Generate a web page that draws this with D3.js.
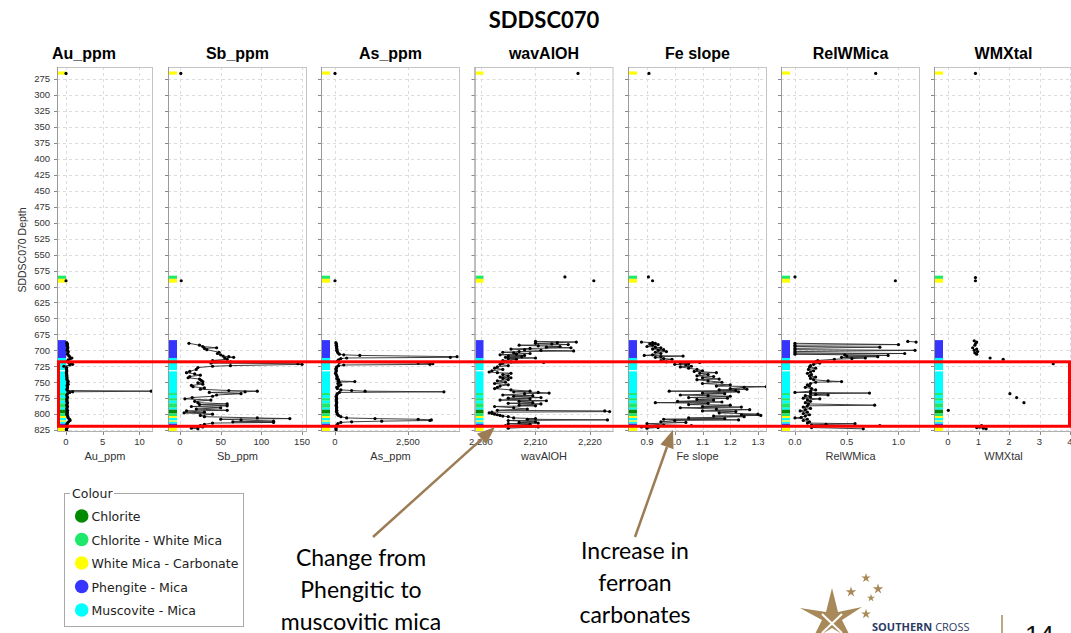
<!DOCTYPE html>
<html><head><meta charset="utf-8">
<script src="https://cdn.jsdelivr.net/npm/d3@7"></script>
<style>body{margin:0;background:#fff;overflow:hidden} svg{display:block}</style>
</head><body>
<svg id="c" width="1071" height="633"></svg>
<script>
// ---------------- DATA ----------------
const chartTitle = "SDDSC070";
const depthLabel = "SDDSC070 Depth";
const depthTicks = [275,300,325,350,375,400,425,450,475,500,525,550,575,600,625,650,675,700,725,750,775,800,825];
const panelNames = ["Au_ppm","Sb_ppm","As_ppm","wavAlOH","Fe slope","RelWMica","WMXtal"];

const auTicks = [0,5,10];
const sbTicks = [0,50,100,150];
const asTicks = [0,2500];
const alohTicks = [2200,2210,2220];
const feTicks = [0.9,1.0,1.1,1.2,1.3];
const relTicks = [0.0,0.5,1.0];
const wmxTicks = [0,1,2,3,4];

const classNames = ["Chlorite","Chlorite - White Mica","White Mica - Carbonate","Phengite - Mica","Muscovite - Mica"];
const classColors = ["#008a00","#1ee86a","#ffff00","#3535ff","#00ffff"];

// colour strip intervals [top depth, bottom depth, class]
const stripData = [
 [263,268,"White Mica - Carbonate"],
 [583,588,"Chlorite - White Mica"],
 [588,594,"White Mica - Carbonate"],
 [684,712,"Phengite - Mica"],
 [712,731,"Muscovite - Mica"],
 [733,767,"Muscovite - Mica"],
 [767,770,"Chlorite - White Mica"],
 [770,775,"Muscovite - Mica"],
 [775,779,"Chlorite - White Mica"],
 [779,783,"Muscovite - Mica"],
 [783,790,"Chlorite - White Mica"],
 [790,793,"Muscovite - Mica"],
 [793,799,"Chlorite"],
 [799,803,"Chlorite - White Mica"],
 [803,806,"White Mica - Carbonate"],
 [806,810,"Muscovite - Mica"],
 [810,812,"White Mica - Carbonate"],
 [812,815,"Muscovite - Mica"],
 [815,818,"Phengite - Mica"],
 [818,828,"White Mica - Carbonate"]
];

// [depth, value]
const auData = [[266,0],[591,0],
 [688,0.1],[690,0.2],[692,0.15],[694,0.2],[696,0.25],[698,0.2],[700,0.15],[702,0.3],[704,0.25],[706,0.2],[708,0.35],[710,0.5],[712,0.8],[713,0.6],[715,0.3],[717,0.2],[719,0.35],[721,0.75],[722,0.9],[723,0.5],[725,-0.3],[727,0.1],[729,0.05],[731,0.1],[733,0.1],[735,0.05],[737,0.1],[739,0.1],[741,0.1],[743,0.15],[745,0.1],[747,0.2],[749,0.3],[751,0.2],[753,0.3],[755,0.15],[757,0.2],[759,0.2],[761,0.1],[763,0.2],[764,11.6],[765,0.9],[766,0.5],[768,0.2],[770,0.1],[772,0.15],[774,0.2],[776,0.1],[778,0.15],[780,0.1],[782,0.2],[784,0.15],[786,0.1],[788,0.2],[790,0.15],[792,0.1],[794,0.2],[796,0.15],[798,0.2],[800,0.1],[802,0.2],[804,0.25],[806,0.3],[808,0.5],[810,0.55],[812,0.35],[814,0.2],[816,0.1],[818,0.15],[820,0.2],[822,0.1],[824,0.05],[826,0.1]];

const sbData = [[266,1],[591,1.5],
 [689,11],[692,24],[694,28],[696,45],[697,30],[699,33],[703,48],[705,46],[707,50],[709,53],[710,60],[711,66],[712,55],[714,58],[716,40],[718,62],[720,38],[721,145],[722,150],[724,62],[725,40],[727,22],[730,20],[733,12],[735,8],[737,18],[739,25],[741,12],[743,10],[745,24],[747,26],[749,28],[751,22],[753,28],[755,14],[757,16],[759,30],[761,25],[763,60],[764,95],[765,80],[766,36],[768,75],[770,45],[772,40],[774,15],[776,6],[778,38],[780,18],[782,22],[784,58],[785,24],[787,58],[788,14],[790,50],[792,20],[794,58],[795,8],[797,30],[798,5],[800,40],[802,25],[804,30],[806,95],[807,135],[808,50],[809,75],[811,115],[812,65],[813,115],[814,40],[816,30],[818,25],[820,28],[822,14],[823,22]];

const asData = [[266,0],[591,0],
 [688,30],[690,50],[692,40],[694,60],[696,50],[698,70],[700,60],[702,80],[704,100],[706,150],[707,300],[708,850],[710,4180],[711,3950],[712,400],[713,200],[715,120],[717,80],[719,150],[720,2850],[721,3350],[722,3250],[723,300],[724,120],[726,60],[728,40],[730,30],[732,50],[734,30],[736,20],[738,40],[740,60],[742,80],[744,60],[746,120],[748,100],[749,680],[750,150],[752,100],[754,200],[756,120],[758,60],[760,80],[762,200],[763,570],[764,1030],[765,3730],[766,150],[768,80],[770,60],[772,40],[774,50],[776,60],[778,40],[780,50],[782,60],[784,50],[786,40],[788,50],[790,60],[792,50],[794,60],[796,50],[798,70],[800,80],[802,120],[804,200],[806,400],[807,1370],[808,2850],[809,3300],[810,3250],[811,1600],[812,570],[813,200],[815,100],[817,60],[819,50],[821,40],[823,30],[825,40]];

const alohData = [[266,2217.8],[585,2215.4],[591,2220.7],
 [686,2210],[687,2217.5],[688,2214],[689,2210],[690,2213],[691,2216],[692,2207],[693,2210.5],[694,2214.5],[695,2212],[696,2216.5],[697,2209],[698,2205.5],[699,2208],[700,2211],[701,2217],[702,2207],[703,2204],[704,2206],[705,2209],[706,2206.5],[707,2203.5],[708,2208],[709,2205],[710,2207.5],[711,2204.5],[712,2210],[713,2205],[714,2206.5],[716,2204],[718,2205.5],[719,2211.5],[720,2204],[722,2203.5],[724,2205],[726,2203],[728,2202.5],[730,2204],[732,2202],[734,2201.5],[735,2203],[736,2205.5],[738,2204],[740,2205],[742,2203.5],[743,2205.5],[744,2204],[746,2205],[748,2203],[750,2204.5],[752,2202.5],[754,2205],[756,2203.5],[758,2203],[760,2202.5],[762,2205.5],[764,2209],[765,2206],[766,2210.5],[767,2212.5],[768,2208],[770,2204],[771,2209.5],[772,2206],[774,2211],[775,2205],[776,2209],[778,2203.5],[779,2212],[780,2207],[782,2209.5],[783,2205],[784,2211],[786,2207],[787,2210],[788,2202.5],[790,2206],[792,2208.5],[794,2203],[795,2222.7],[796,2223.6],[797,2202],[798,2201.5],[799,2202],[800,2202.5],[801,2203],[802,2203.5],[803,2204],[804,2205],[806,2206],[807,2210],[808,2208.5],[809,2223.2],[810,2205],[812,2210],[813,2207],[814,2210.5],[815,2205],[816,2209],[818,2204.5],[820,2210.5],[822,2205]];

const feData = [[266,0.907],[585,0.905],[591,0.92],
 [687,0.88],[688,0.92],[689,0.93],[690,0.91],[691,0.94],[692,0.92],[694,0.90],[695,0.93],[696,0.95],[698,0.92],[699,0.96],[700,0.94],[702,0.97],[703,0.93],[705,0.95],[707,0.92],[708,0.89],[709,1.03],[710,0.95],[711,0.93],[713,0.96],[714,0.99],[716,0.95],[718,0.97],[719,1.09],[720,1.02],[721,1.05],[722,1.0],[723,1.04],[725,1.06],[726,1.02],[728,1.05],[730,1.08],[732,1.1],[733,1.07],[735,1.15],[736,1.09],[738,1.12],[740,1.08],[741,1.14],[743,1.1],[745,1.16],[746,1.08],[748,1.12],[750,1.17],[752,1.1],[754,1.2],[756,1.15],[757,1.33],[758,1.25],[760,1.2],[761,1.26],[762,1.16],[763,1.22],[764,0.98],[765,1.23],[767,1.1],[768,1.18],[770,1.02],[771,1.12],[772,1.2],[774,1.05],[775,1.19],[777,1.08],[778,1.14],[780,1.01],[781,1.17],[782,0.93],[783,1.12],[785,1.05],[786,1.2],[788,1.1],[789,1.24],[790,1.02],[792,1.15],[793,1.27],[795,1.1],[796,1.22],[798,1.16],[800,1.3],[801,1.24],[802,1.31],[803,1.14],[804,1.25],[806,1.05],[807,1.18],[808,0.96],[809,1.23],[810,1.0],[812,0.95],[813,1.04],[815,0.9],[817,0.96],[818,1.06],[820,0.88],[821,0.94],[822,0.9]];

const relData = [[266,0.78],[585,0.0],[591,0.97],
 [686,1.09],[687,1.17],[688,null],[689,0.0],[691,1.0],[692,0.0],[694,0.0],[695,0.82],[697,0.0],[699,0.0],[700,1.16],[702,0.0],[704,0.0],[705,1.06],[706,0.0],[707,0.48],[708,0.9],[709,0.5],[710,0.8],[711,0.45],[712,0.68],[713,0.55],[714,0.38],[716,0.22],[718,0.2],[720,0.24],[722,0.18],[724,0.15],[726,0.14],[728,0.2],[730,0.13],[732,0.18],[734,0.15],[736,0.12],[738,0.16],[740,0.14],[742,0.2],[744,0.15],[746,0.18],[748,0.32],[749,0.45],[750,0.2],[752,0.15],[754,0.12],[756,0.14],[758,0.1],[760,0.16],[762,0.2],[764,0.15],[766,0.0],[767,0.72],[768,0.15],[769,0.2],[770,0.32],[771,0.1],[773,0.15],[775,0.08],[776,0.24],[778,0.12],[780,0.15],[782,0.1],[784,0.13],[786,0.77],[787,0.12],[789,0.08],[791,0.15],[793,0.1],[795,0.05],[797,0.12],[799,0.08],[801,0.14],[803,0.1],[805,0.06],[806,0.0],[808,0.12],[810,0.08],[812,0.14],[814,0.12],[815,0.58],[816,0.3],[817,0.16],[818,0.82],[819,0.2],[821,0.16],[823,0.66]];

const wmxData = [[266,0.9],[586,0.9],[591,0.9],
 [685,0.86],[686,null],[687,0.94],[688,null],[689,0.91],[690,null],[692,0.88],[693,null],[696,0.81],[697,null],[698,0.94],[699,null],[700,0.86],[701,null],[702,0.97],[703,null],[704,0.88],[705,null],[706,0.94],[707,null],[712,1.38],[713,null],[714,1.81],[715,null],[721,3.45],[768,2.03],[769,null],[774,2.25],[775,null],[782,2.49],[794,0.01],[818,1.1],[820,1.03],[821,0.94],[822,1.16],[823,1.25]];

const highlightDepths = [718, 819];
const legendTitle = "Colour";
const note1 = ["Change from","Phengitic to","muscovitic mica"];
const note2 = ["Increase in","ferroan","carbonates"];

// ---------------- LAYOUT ----------------
const svg = d3.select("#c");
const yTop = 67, yBot = 432;
const y = d3.scaleLinear().domain([256,828]).range([yTop,yBot]);

const panels = [
 {name:panelNames[0], data:auData, ticks:auTicks, fmt:d3.format("d"), left:57, width:96, domain:[-1.224,11.837]},
 {name:panelNames[1], data:sbData, ticks:sbTicks, fmt:d3.format("d"), left:168, width:139, domain:[-14.75,156.1]},
 {name:panelNames[2], data:asData, ticks:asTicks, fmt:d3.format(","), left:321, width:139, domain:[-479,4281]},
 {name:panelNames[3], data:alohData, ticks:alohTicks, fmt:d3.format(","), left:474.5, width:139, domain:[2198.81,2224.31]},
 {name:panelNames[4], data:feData, ticks:feTicks, fmt:d3.format(".1f"), left:628, width:139, domain:[0.8315,1.3324]},
 {name:panelNames[5], data:relData, ticks:relTicks, fmt:d3.format(".1f"), left:781, width:139, domain:[-0.135,1.208]},
 {name:panelNames[6], data:wmxData, ticks:wmxTicks, fmt:d3.format("d"), left:934, width:139, domain:[-0.459,4.098]}
];
const colorOf = d3.scaleOrdinal().domain(classNames).range(classColors);

const FONT = "'Liberation Sans', Arial, sans-serif";

function runs(data){
  const out=[]; let cur=[];
  data.forEach(d=>{
    if(d[1]==null){ if(cur.length) out.push(cur); cur=[]; return; }
    if(cur.length && d[0]-cur[cur.length-1][0] > 4){ out.push(cur); cur=[]; }
    cur.push(d);
  });
  if(cur.length) out.push(cur);
  return out;
}

const defs = svg.append("defs");

panels.forEach((p,i)=>{
  const L = p.left, R = p.left + p.width;
  const x = d3.scaleLinear().domain(p.domain).range([L,R]);
  const g = svg.append("g");
  defs.append("clipPath").attr("id","clip"+i).append("rect")
     .attr("x",L).attr("y",yTop).attr("width",p.width).attr("height",yBot-yTop);

  g.append("rect").attr("x",L).attr("y",yTop).attr("width",p.width).attr("height",yBot-yTop).attr("fill","#fff");

  // grid
  g.append("g").selectAll("line").data(depthTicks).join("line")
    .attr("x1",L).attr("x2",R).attr("y1",d=>Math.round(y(d))+0.5).attr("y2",d=>Math.round(y(d))+0.5)
    .attr("stroke","#dcdcdc").attr("stroke-width",1).attr("stroke-dasharray","3,3");
  g.append("g").selectAll("line").data(p.ticks).join("line")
    .attr("x1",d=>Math.round(x(d))+0.5).attr("x2",d=>Math.round(x(d))+0.5).attr("y1",yTop).attr("y2",yBot)
    .attr("stroke","#dcdcdc").attr("stroke-width",1).attr("stroke-dasharray","3,3");

  const inner = g.append("g").attr("clip-path","url(#clip"+i+")");
  // colour strip
  inner.append("g").selectAll("rect").data(stripData).join("rect")
    .attr("x",L+1).attr("width",8)
    .attr("y",d=>y(d[0])).attr("height",d=>y(d[1])-y(d[0]))
    .attr("fill",d=>colorOf(d[2]));

  // lines
  const line = d3.line().x(d=>x(d[1])).y(d=>y(d[0]));
  inner.append("g").selectAll("path").data(runs(p.data).filter(r=>r.length>1)).join("path")
    .attr("d",line).attr("fill","none").attr("stroke","#2a2a2a").attr("stroke-width",0.9);
  // dots
  inner.append("g").selectAll("circle").data(p.data.filter(d=>d[1]!=null)).join("circle")
    .attr("cx",d=>x(d[1])).attr("cy",d=>y(d[0])).attr("r",1.6).attr("fill","#000");

  // border
  g.append("rect").attr("x",L+0.5).attr("y",yTop+0.5).attr("width",p.width-1).attr("height",yBot-yTop-1)
    .attr("fill","none").attr("stroke","#c4c4c4");
  g.append("line").attr("x1",L+0.5).attr("x2",L+0.5).attr("y1",yTop).attr("y2",yBot).attr("stroke","#9a9a9a");
  g.append("line").attr("x1",L).attr("x2",R).attr("y1",yBot-0.5).attr("y2",yBot-0.5).attr("stroke","#b0b0b0");

  // left ticks
  g.append("g").selectAll("line").data(depthTicks).join("line")
    .attr("x1",L-3).attr("x2",L).attr("y1",d=>Math.round(y(d))+0.5).attr("y2",d=>Math.round(y(d))+0.5)
    .attr("stroke","#888");
  // bottom ticks
  g.append("g").selectAll("line").data(p.ticks).join("line")
    .attr("x1",d=>Math.round(x(d))+0.5).attr("x2",d=>Math.round(x(d))+0.5).attr("y1",yBot).attr("y2",yBot+3)
    .attr("stroke","#888");
  // tick labels
  g.append("g").selectAll("text").data(p.ticks).join("text")
    .attr("x",d=>x(d)).attr("y",445).attr("text-anchor","middle")
    .attr("font-family",FONT).attr("font-size",9.5).attr("fill","#333").text(d=>p.fmt(d));
  // axis title
  g.append("text").attr("x",(L+R)/2).attr("y",460).attr("text-anchor","middle")
    .attr("font-family",FONT).attr("font-size",11).attr("fill","#333").text(p.name);
  // panel title
  g.append("text").attr("x", i===0 ? 84 : (L+R)/2).attr("y",59).attr("text-anchor","middle")
    .attr("font-family",FONT).attr("font-weight","bold").attr("font-size",16).attr("fill","#000").text(p.name);
});

// depth axis labels
svg.append("g").selectAll("text").data(depthTicks).join("text")
  .attr("x",50).attr("y",d=>y(d)+3.3).attr("text-anchor","end")
  .attr("font-family",FONT).attr("font-size",9.5).attr("fill","#333").text(d=>d);
svg.append("text").attr("transform","translate(26,250) rotate(-90)").attr("text-anchor","middle")
  .attr("font-family",FONT).attr("font-size",10.5).attr("fill","#333").text(depthLabel);

// title
svg.append("text").attr("x",544).attr("y",28).attr("text-anchor","middle")
  .attr("font-family","Lato, 'Open Sans', sans-serif").attr("font-weight","bold").attr("font-size",22).text(chartTitle);

// highlight box
svg.append("rect").attr("x",58.5).attr("y",y(highlightDepths[0])).attr("width",1011)
  .attr("height",y(highlightDepths[1])-y(highlightDepths[0]))
  .attr("fill","none").attr("stroke","#ff0000").attr("stroke-width",3);

// legend
const lg = svg.append("g");
lg.append("rect").attr("x",64.5).attr("y",493.5).attr("width",179).attr("height",133)
  .attr("fill","#fff").attr("stroke","#a8a8a8");
lg.append("rect").attr("x",70).attr("y",488).attr("width",44).attr("height",11).attr("fill","#fff");
lg.append("text").attr("x",72).attr("y",498).attr("font-family","'DejaVu Sans', sans-serif").attr("font-size",12.5)
  .attr("fill","#222").text(legendTitle);
const items = lg.selectAll("g.it").data(classNames).join("g").attr("class","it")
  .attr("transform",(d,i)=>`translate(0,${516+i*23.5})`);
items.append("circle").attr("cx",81.7).attr("cy",0).attr("r",6.8).attr("fill",d=>colorOf(d));
items.append("text").attr("x",91.5).attr("y",5).attr("font-family","'DejaVu Sans', sans-serif")
  .attr("font-size",12.5).attr("fill","#222").text(d=>d);

// annotations
const brown = "#9c7c55";
function arrow(x1,y1,x2,y2){
  const a = Math.atan2(y2-y1,x2-x1), hl=18, hw=7;
  const bx = x2-hl*Math.cos(a), by = y2-hl*Math.sin(a);
  svg.append("line").attr("x1",x1).attr("y1",y1).attr("x2",bx).attr("y2",by)
     .attr("stroke",brown).attr("stroke-width",2.5);
  const pts = [[x2,y2],[bx+hw*Math.sin(a),by-hw*Math.cos(a)],[bx-hw*Math.sin(a),by+hw*Math.cos(a)]];
  svg.append("path").attr("d","M"+pts.map(p=>p.join(",")).join("L")+"Z").attr("fill",brown);
}
arrow(373,537,495,427);
arrow(635,537,673,430);
const noteFont = "Lato, 'Open Sans', sans-serif";
svg.append("g").selectAll("text").data(note1).join("text")
  .attr("x",361).attr("y",(d,i)=>566+i*32).attr("text-anchor","middle")
  .attr("font-family",noteFont).attr("font-size",23).attr("fill","#000").text(d=>d);
svg.append("g").selectAll("text").data(note2).join("text")
  .attr("x",635).attr("y",(d,i)=>559+i*32).attr("text-anchor","middle")
  .attr("font-family",noteFont).attr("font-size",23).attr("fill","#000").text(d=>d);

// logo
const gold = "#a88a5a";
const star = d3.symbol().type(d3.symbolStar);
[[866,578,28],[851,592,34],[878,589,34],[871,598,20],[866,614,30]].forEach(s=>{
  svg.append("path").attr("d",star.size(s[2])()).attr("transform",`translate(${s[0]},${s[1]})`).attr("fill",gold);
});
svg.append("path").attr("d","M832,588 L838,612 L862,607 L842,620 L852,640 L832,628 L812,640 L822,620 L800,608 L826,612 Z")
  .attr("fill",gold);
svg.append("path").attr("d","M822,614 L842,633 M842,614 L822,633").attr("stroke","#fff").attr("stroke-width",2);
const lt = svg.append("text").attr("x",872).attr("y",631).attr("font-family","'Open Sans', sans-serif")
  .attr("font-size",11).attr("fill","#2c3a66");
lt.append("tspan").attr("font-weight","bold").text("SOUTHERN");
lt.append("tspan").text(" CROSS");
svg.append("line").attr("x1",1002).attr("x2",1002).attr("y1",615).attr("y2",633).attr("stroke",gold).attr("stroke-width",1.5);
svg.append("text").attr("x",1025).attr("y",644).attr("font-family",FONT).attr("font-size",26).attr("fill","#111").text("14");
</script>
</body></html>
